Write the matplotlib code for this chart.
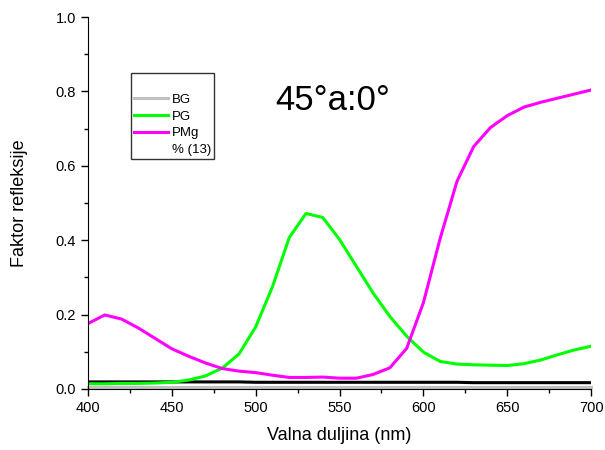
import matplotlib
matplotlib.use("Agg")
import matplotlib.pyplot as plt
from matplotlib.lines import Line2D
from matplotlib.ticker import MultipleLocator

plt.rcParams['font.family'] = ['Liberation Sans', 'DejaVu Sans']

# valne duljine (nm)
wl = [400, 410, 420, 430, 440, 450, 460, 470, 480, 490, 500,
      510, 520, 530, 540, 550, 560, 570, 580, 590, 600,
      610, 620, 630, 640, 650, 660, 670, 680, 690, 700]

bg = [0.004] * 31
pg = [0.014, 0.014, 0.015, 0.015, 0.016, 0.018, 0.024, 0.035, 0.056, 0.094, 0.167,
      0.275, 0.407, 0.472, 0.461, 0.402, 0.330, 0.258, 0.195, 0.142, 0.099,
      0.074, 0.067, 0.065, 0.064, 0.063, 0.068, 0.078, 0.092, 0.105, 0.115]
pmg = [0.176, 0.199, 0.188, 0.164, 0.136, 0.108, 0.088, 0.070, 0.055, 0.048, 0.044,
       0.037, 0.031, 0.031, 0.032, 0.029, 0.029, 0.039, 0.057, 0.109, 0.232,
       0.405, 0.558, 0.652, 0.703, 0.735, 0.758, 0.771, 0.782, 0.793, 0.804]
crna = [0.019, 0.019, 0.019, 0.019, 0.019, 0.019, 0.019, 0.019, 0.019, 0.019, 0.018,
        0.018, 0.018, 0.018, 0.018, 0.018, 0.018, 0.018, 0.018, 0.018, 0.018,
        0.018, 0.018, 0.017, 0.017, 0.017, 0.017, 0.017, 0.017, 0.017, 0.017]

fig = plt.figure(figsize=(6.05, 4.5), dpi=100)
ax = fig.add_axes([0.1455, 0.1356, 0.8315, 0.8264])

ax.plot(wl, bg, color='#c0c0c0', lw=2.2, label='BG', clip_on=False)
ax.plot(wl, crna, color='black', lw=2.2)
ax.plot(wl, pg, color='#00ff00', lw=2.2, label='PG')
ax.plot(wl, pmg, color='#ff00ff', lw=2.2, label='PMg')

ax.set_xlim(400, 700)
ax.set_ylim(0, 1.0)
ax.xaxis.set_major_locator(MultipleLocator(50))
ax.xaxis.set_minor_locator(MultipleLocator(25))
ax.yaxis.set_major_locator(MultipleLocator(0.2))
ax.yaxis.set_minor_locator(MultipleLocator(0.1))
ax.yaxis.set_major_formatter(plt.FormatStrFormatter('%.1f'))
ax.tick_params(which='major', direction='out', length=5, width=1, labelsize=10.5)
ax.tick_params(which='minor', direction='out', length=3, width=1)
for s in ['top', 'right']:
    ax.spines[s].set_visible(False)

ax.set_xlabel('Valna duljina (nm)', fontsize=13, labelpad=9)
ax.set_ylabel('Faktor refleksije', fontsize=13, labelpad=20)

ax.text(0.487, 0.777, '45°a:0°', transform=ax.transAxes, fontsize=25,
        ha='center', va='center')

handles, labels = ax.get_legend_handles_labels()
handles.append(Line2D([], [], color='none'))
labels.append('% (13)')
leg = ax.legend(handles, labels, loc='upper left', bbox_to_anchor=(0.0855, 0.85),
                fontsize=9.5, frameon=True, fancybox=False, edgecolor='black',
                handlelength=2.6, handletextpad=0.3, labelspacing=0.33,
                borderpad=0.2, borderaxespad=0, title=' ', title_fontsize=10)
leg.get_frame().set_linewidth(1)

fig.savefig('out.png', dpi=100)
